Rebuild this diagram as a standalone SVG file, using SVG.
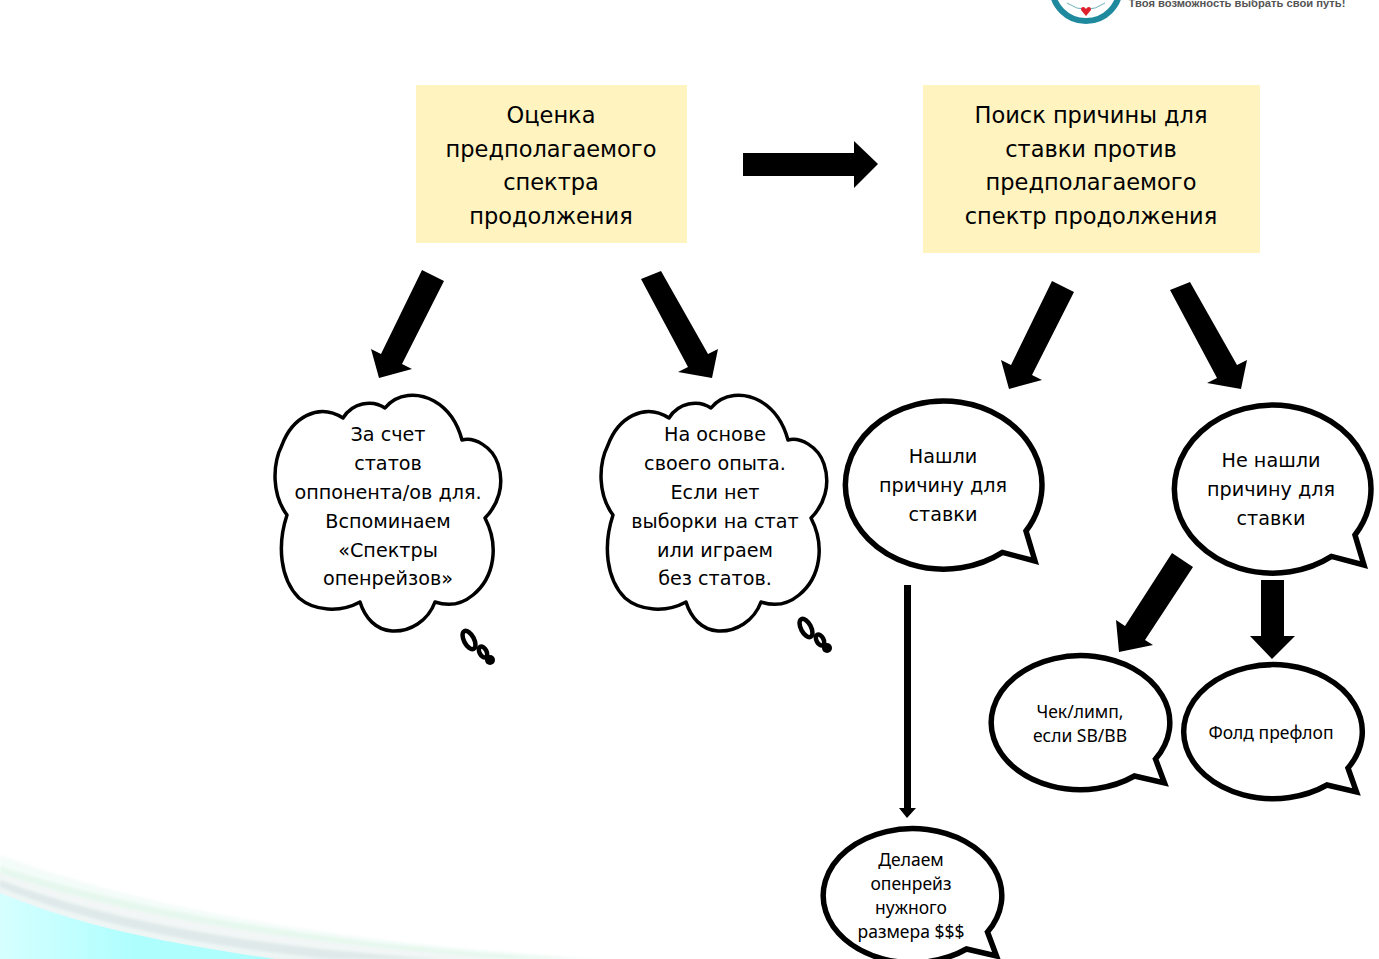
<svg xmlns="http://www.w3.org/2000/svg" width="1379" height="959" viewBox="0 0 1379 959">
<style>
.box{fill:#fff3c0}
.a{fill:#000}
.b{fill:#fff;stroke:#000;stroke-width:5.5;stroke-linejoin:miter;stroke-miterlimit:2.5}
.c{fill:#fff;stroke:#000;stroke-width:3.5;stroke-linejoin:round}
.d{fill:#fff;stroke:#000;stroke-width:4.5}
text{fill:#000;text-anchor:middle}
.t1{font:22.5px "DejaVu Sans",sans-serif}
.t2{font:19.2px "DejaVu Sans",sans-serif}
.t3{font:17.5px "Noto Sans",sans-serif}
</style>
<defs>
<path id="cloud" d="M343,418 C352,403 372,399 385,408 C397,393 418,392 434,401 C450,410 458,425 462,440 C474,437 492,446 498,464 C505,485 498,505 485,518 C499,545 495,577 473,595 C461,605 447,606 435,602 C428,621 410,632 392,631 C376,630 365,618 360,602 C340,613 314,611 299,598 C280,579 277,545 287,515 C272,495 272,465 282,445 C292,418 318,402 343,418Z"/>
<g id="dots"><ellipse cx="469" cy="640" rx="5" ry="10" transform="rotate(-28 469 640)" class="d"/><ellipse cx="483" cy="652" rx="3.5" ry="6" transform="rotate(-28 483 652)" class="d"/><circle cx="490" cy="660" r="5" class="a"/></g>
<linearGradient id="cy" x1="0" x2="1" y1="0" y2="0"><stop offset="0" stop-color="#d6ffff"/><stop offset="0.5" stop-color="#aefefe"/><stop offset="1" stop-color="#aefefe"/></linearGradient>
<filter id="bl" x="-5%" y="-30%" width="110%" height="160%"><feGaussianBlur stdDeviation="1.5"/></filter>
</defs>
<g id="background">
<path d="M0,855 C150,910 350,945 610,959 L0,959Z" fill="#f4fcf9" filter="url(#bl)"/>
<path d="M0,866 C150,915 340,945 570,959 L0,959Z" fill="#e6f8ee" filter="url(#bl)"/>
<path d="M0,873 C130,918 310,945 510,959 L0,959Z" fill="#f2f6f6" filter="url(#bl)"/>
<path d="M0,880 C120,925 270,948 440,959 L0,959Z" fill="#dfe9e9" filter="url(#bl)"/>
<path d="M0,887 C100,928 220,948 330,959 L0,959Z" fill="#eef5f5" filter="url(#bl)"/>
<path d="M0,893 C90,930 180,945 275,959 L0,959Z" fill="url(#cy)"/>
</g>
<g id="logo">
<circle cx="1086" cy="-13" r="34" fill="#fff" stroke="#1f8a9e" stroke-width="6"/>
<path d="M1067,3 Q1086,16 1105,3" fill="none" stroke="#6fb0bd" stroke-width="1"/>
<path d="M1086,16 L1081,10 Q1081,7 1083,7 Q1085,7 1086,9 Q1087,7 1089,7 Q1091,7 1091,10Z" fill="#e0202c"/>
<text x="1237" y="7" style="font:bold 11.2px 'Liberation Sans',sans-serif;fill:#555">Твоя возможность выбрать свои путь!</text>
</g>
<g id="connectors">
<polygon class="a" points="743,153 854,153 854,141 878,164 854,188 854,176 743,176"/>
<polygon class="a" points="422,270 444,281 402,364 412,369 379,378 371,349 381,354"/>
<polygon class="a" points="641,279 661,271 708,354 718,349 712,378 678,372 688,367"/>
<polygon class="a" points="1052,281 1074,292 1032,375 1042,380 1009,389 1001,360 1011,365"/>
<polygon class="a" points="1170,290 1190,282 1237,365 1247,360 1241,389 1207,383 1217,378"/>
<polygon class="a" points="1172,553 1193,567 1145,640 1153,645 1119,652 1116,620 1125,626"/>
<polygon class="a" points="1261,580 1284,580 1284,636 1295,636 1272,659 1250,636 1261,636"/>
<polygon class="a" points="904,585 911,585 911,808 916,808 907,818 899,808 904,808"/>
</g>
<g id="box-left"><rect class="box" x="416" y="85" width="271" height="158"/>
<text class="t1" x="551" y="123">Оценка</text><text class="t1" x="551" y="157">предполагаемого</text><text class="t1" x="551" y="190">спектра</text><text class="t1" x="551" y="224">продолжения</text></g>
<g id="box-right"><rect class="box" x="923" y="85" width="337" height="168"/>
<text class="t1" x="1091" y="123">Поиск причины для</text><text class="t1" x="1091" y="157">ставки против</text><text class="t1" x="1091" y="190">предполагаемого</text><text class="t1" x="1091" y="224">спектр продолжения</text></g>
<g id="cloud-left"><use href="#cloud" class="c"/><use href="#dots"/>
<text class="t2" x="388" y="441">За счет</text><text class="t2" x="388" y="470">статов</text><text class="t2" x="388" y="499">оппонента/ов для.</text><text class="t2" x="388" y="528">Вспоминаем</text><text class="t2" x="388" y="557">«Спектры</text><text class="t2" x="388" y="585">опенрейзов»</text></g>
<g id="cloud-right"><use href="#cloud" class="c" x="326"/><use href="#dots" x="337" y="-12"/>
<text class="t2" x="715" y="441">На основе</text><text class="t2" x="715" y="470">своего опыта.</text><text class="t2" x="715" y="499">Если нет</text><text class="t2" x="715" y="528">выборки на стат</text><text class="t2" x="715" y="557">или играем</text><text class="t2" x="715" y="585">без статов.</text></g>
<g id="bubble-found"><path class="b" d="M1026,531 A98.3,84 0 1 0 1002.5,552.4 L1035,561Z"/>
<text class="t2" x="943" y="463">Нашли</text><text class="t2" x="943" y="492">причину для</text><text class="t2" x="943" y="521">ставки</text></g>
<g id="bubble-notfound"><path class="b" d="M1355,535 A98.3,84 0 1 0 1331.5,556.4 L1364,565Z"/>
<text class="t2" x="1271" y="467">Не нашли</text><text class="t2" x="1271" y="496">причину для</text><text class="t2" x="1271" y="525">ставки</text></g>
<g id="bubble-check"><path class="b" d="M1155.5,759 A89.3,67 0 1 0 1134.5,776 L1164.5,783Z"/>
<text class="t3" x="1080" y="718">Чек/лимп,</text><text class="t3" x="1080" y="742">если SB/BB</text></g>
<g id="bubble-fold"><path class="b" d="M1348,768 A89.3,67 0 1 0 1327,785 L1356.5,792Z"/>
<text class="t3" x="1271" y="739">Фолд префлоп</text></g>
<g id="bubble-raise"><path class="b" d="M987.5,932 A89.3,67 0 1 0 966.5,949 L996.5,956Z"/>
<text class="t3" x="911" y="866">Делаем</text><text class="t3" x="911" y="890">опенрейз</text><text class="t3" x="911" y="914">нужного</text><text class="t3" x="911" y="938">размера $$$</text></g>
</svg>
